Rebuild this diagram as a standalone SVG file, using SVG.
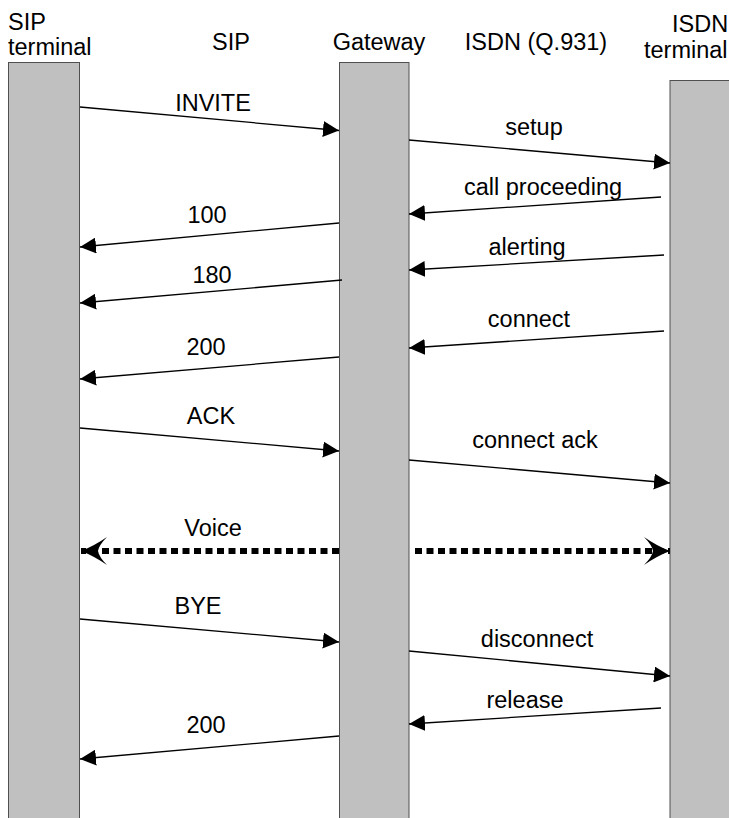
<svg xmlns="http://www.w3.org/2000/svg" width="729" height="818" viewBox="0 0 729 818">
  <style>
    text { font-family: "Liberation Sans", Arial, sans-serif; font-size: 23.5px; fill: #000; }
    .lbl { text-anchor: middle; }
    .bar { fill: #c0c0c0; stroke: #505050; stroke-width: 1; }
    .msg { stroke: #000; stroke-width: 1.3; fill: none; marker-end: url(#arr); }
    .voice { stroke: #000; stroke-width: 6; fill: none; stroke-dasharray: 7 4.5; marker-end: url(#chev); }
  </style>
  <defs>
    <marker id="arr" viewBox="0 0 16 16" refX="16" refY="8" markerWidth="16" markerHeight="16" markerUnits="userSpaceOnUse" orient="auto">
      <path d="M0,0 L16,8 L0,16 Z" fill="#000"/>
    </marker>
    <!-- barbed open head for the voice path -->
    <marker id="chev" viewBox="0 0 26 28" refX="26" refY="14" markerWidth="26" markerHeight="28" markerUnits="userSpaceOnUse" orient="auto">
      <path d="M0,0 Q13,9 26,14 Q13,19 0,28 Q8,20 9,14 Q8,8 0,0 Z" fill="#000"/>
    </marker>
  </defs>

  <rect width="729" height="818" fill="#fff"/>

  <!-- column headings -->
  <text x="8" y="30">SIP</text>
  <text x="8" y="55">terminal</text>
  <text class="lbl" x="231" y="50">SIP</text>
  <text class="lbl" x="536" y="50">ISDN (Q.931)</text>
  <text x="672" y="32">ISDN</text>
  <text x="644" y="58">terminal</text>

  <!-- lifelines -->
  <g id="sip-terminal">
    <rect class="bar" x="8.5" y="62.5" width="71" height="760"/>
  </g>
  <g id="gateway">
    <text class="lbl" x="379" y="50">Gateway</text>
    <rect class="bar" x="339.5" y="62.5" width="69.5" height="760"/>
  </g>
  <g id="isdn-terminal">
    <rect class="bar" x="670" y="80.5" width="65" height="760"/>
  </g>

  <!-- messages -->
  <g id="connectors">
    <line class="msg" x1="80" y1="107" x2="339" y2="130.5"/>
    <line class="msg" x1="409" y1="140" x2="670" y2="163"/>
    <line class="msg" x1="661" y1="197" x2="409" y2="214"/>
    <line class="msg" x1="339" y1="223" x2="80" y2="247"/>
    <line class="msg" x1="664" y1="255" x2="409" y2="270"/>
    <line class="msg" x1="342" y1="280" x2="80" y2="303"/>
    <line class="msg" x1="664" y1="331" x2="409" y2="348"/>
    <line class="msg" x1="339" y1="357" x2="80" y2="379"/>
    <line class="msg" x1="80" y1="428" x2="339" y2="451"/>
    <line class="msg" x1="409" y1="460" x2="670" y2="483"/>
    <line class="voice" x1="339" y1="551" x2="81" y2="551"/>
    <line class="voice" x1="415" y1="551" x2="670" y2="551"/>
    <line class="msg" x1="80" y1="619" x2="339" y2="642"/>
    <line class="msg" x1="409" y1="651" x2="670" y2="676"/>
    <line class="msg" x1="661" y1="708" x2="409" y2="724"/>
    <line class="msg" x1="339" y1="736" x2="80" y2="759"/>
  </g>

  <!-- message labels -->
  <g id="labels">
    <text class="lbl" x="213" y="111">INVITE</text>
    <text class="lbl" x="534" y="135">setup</text>
    <text class="lbl" x="543" y="195">call proceeding</text>
    <text class="lbl" x="207" y="223">100</text>
    <text class="lbl" x="527" y="255">alerting</text>
    <text class="lbl" x="212" y="283">180</text>
    <text class="lbl" x="529" y="327">connect</text>
    <text class="lbl" x="206" y="355">200</text>
    <text class="lbl" x="211" y="424">ACK</text>
    <text class="lbl" x="535" y="448">connect ack</text>
    <text class="lbl" x="213" y="536">Voice</text>
    <text class="lbl" x="198" y="614">BYE</text>
    <text class="lbl" x="537" y="647">disconnect</text>
    <text class="lbl" x="525" y="708">release</text>
    <text class="lbl" x="206" y="733">200</text>
  </g>
</svg>
